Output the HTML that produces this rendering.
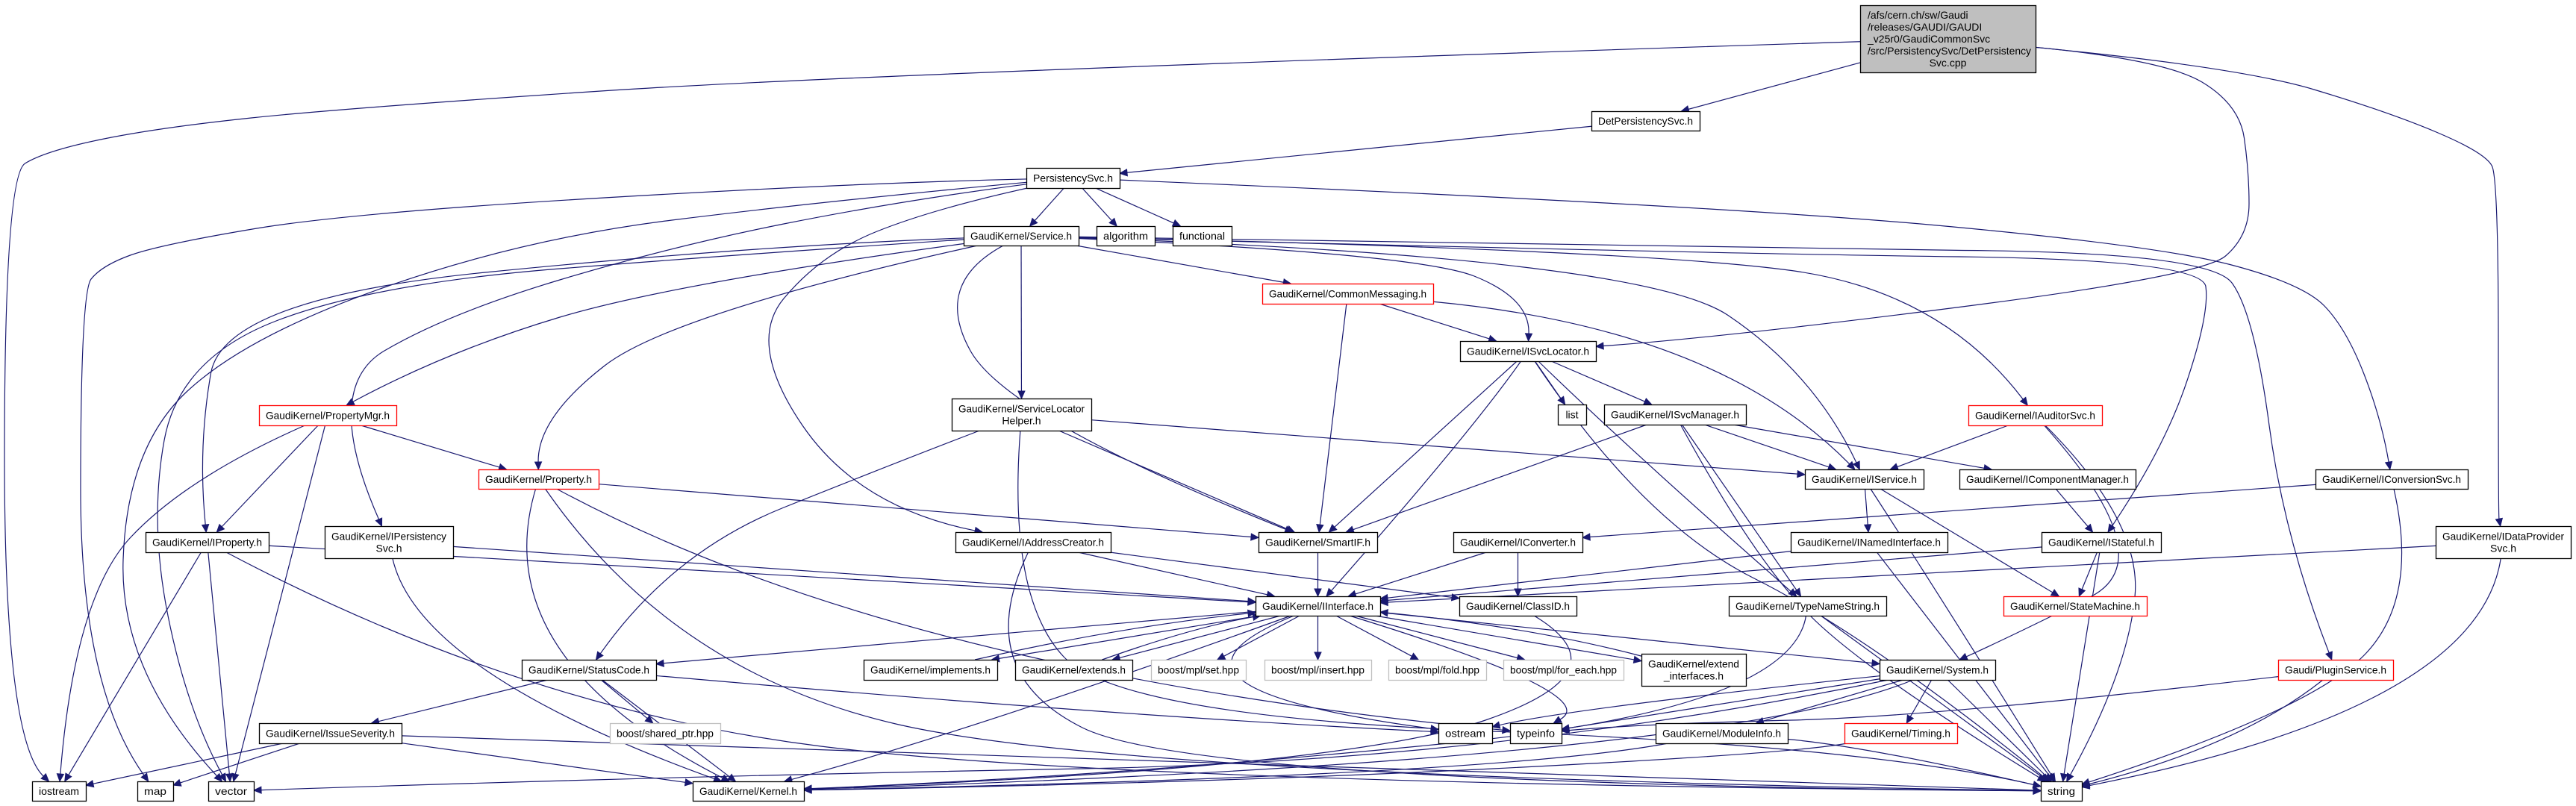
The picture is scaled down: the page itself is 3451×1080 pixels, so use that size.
<!DOCTYPE html>
<html><head><meta charset="utf-8">
<style>
html,body{margin:0;padding:0;background:#fff;}
svg{display:block;}
text{font-family:"Liberation Sans",sans-serif;font-size:14px;fill:#000;}
</style></head>
<body>
<svg id="g" xmlns="http://www.w3.org/2000/svg" width="3451" height="1080" viewBox="0 0 3451 1080">
<rect x="0" y="0" width="3451" height="1080" fill="#fff"/>
<g id="edges" fill="none" stroke="#191970" stroke-width="1.2"></g>
<g id="arrows" fill="#191970" stroke="#191970" stroke-width="1"></g>
<g id="nodes"></g>
</svg>
<script>
var N={
root:[2492,7,2727,97,'g',["/afs/cern.ch/sw/Gaudi","/releases/GAUDI/GAUDI","_v25r0/GaudiCommonSvc","/src/PersistencySvc/DetPersistency","Svc.cpp"]],
det:[2132,149,2277,175,'k',["DetPersistencySvc.h"]],
pers:[1375,225,1500,252,'k',["PersistencySvc.h"]],
svc:[1291,303,1445,329,'k',["GaudiKernel/Service.h"]],
alg:[1469,303,1547,329,'k',["algorithm"]],
fun:[1571,303,1650,329,'k',["functional"]],
cm:[1691,380,1920,407,'r',["GaudiKernel/CommonMessaging.h"]],
isl:[1956,457,2138,484,'k',["GaudiKernel/ISvcLocator.h"]],
pmgr:[347,543,531,570,'r',["GaudiKernel/PropertyMgr.h"]],
slh:[1275,534,1462,577,'k',["GaudiKernel/ServiceLocator","Helper.h"]],
list:[2087,542,2125,569,'k',["list"]],
ism:[2149,542,2339,569,'k',["GaudiKernel/ISvcManager.h"]],
iaud:[2637,543,2816,570,'r',["GaudiKernel/IAuditorSvc.h"]],
prop:[641,629,802,655,'r',["GaudiKernel/Property.h"]],
isvc:[2418,629,2577,655,'k',["GaudiKernel/IService.h"]],
icm:[2625,629,2861,655,'k',["GaudiKernel/IComponentManager.h"]],
iconv:[3102,629,3306,655,'k',["GaudiKernel/IConversionSvc.h"]],
iprop:[195,713,360,740,'k',["GaudiKernel/IProperty.h"]],
ipers:[435,705,607,748,'k',["GaudiKernel/IPersistency","Svc.h"]],
iac:[1280,713,1488,740,'k',["GaudiKernel/IAddressCreator.h"]],
sif:[1686,713,1845,740,'k',["GaudiKernel/SmartIF.h"]],
icv:[1947,713,2120,740,'k',["GaudiKernel/IConverter.h"]],
ini:[2399,713,2609,740,'k',["GaudiKernel/INamedInterface.h"]],
ist:[2735,713,2895,740,'k',["GaudiKernel/IStateful.h"]],
idp:[3263,705,3444,748,'k',["GaudiKernel/IDataProvider","Svc.h"]],
iif:[1682,799,1849,825,'k',["GaudiKernel/IInterface.h"]],
cid:[1955,799,2112,825,'k',["GaudiKernel/ClassID.h"]],
tns:[2316,799,2527,825,'k',["GaudiKernel/TypeNameString.h"]],
sm:[2684,799,2876,825,'r',["GaudiKernel/StateMachine.h"]],
sc:[699,884,879,911,'k',["GaudiKernel/StatusCode.h"]],
impl:[1157,884,1336,911,'k',["GaudiKernel/implements.h"]],
ext:[1360,884,1517,911,'k',["GaudiKernel/extends.h"]],
bset:[1542,884,1669,911,'y',["boost/mpl/set.hpp"]],
bins:[1694,884,1837,911,'y',["boost/mpl/insert.hpp"]],
bfold:[1860,884,1991,911,'y',["boost/mpl/fold.hpp"]],
bfe:[2014,884,2175,911,'y',["boost/mpl/for_each.hpp"]],
eif:[2199,876,2339,919,'k',["GaudiKernel/extend","_interfaces.h"]],
sys:[2518,884,2673,911,'k',["GaudiKernel/System.h"]],
plug:[3052,884,3206,911,'r',["Gaudi/PluginService.h"]],
iss:[347,969,538,996,'k',["GaudiKernel/IssueSeverity.h"]],
shp:[817,969,965,996,'y',["boost/shared_ptr.hpp"]],
ost:[1927,969,1999,996,'k',["ostream"]],
tinf:[2023,969,2092,996,'k',["typeinfo"]],
mod:[2218,969,2395,996,'k',["GaudiKernel/ModuleInfo.h"]],
tim:[2471,969,2622,996,'r',["GaudiKernel/Timing.h"]],
ios:[43,1047,115,1073,'k',["iostream"]],
map:[184,1047,232,1073,'k',["map"]],
vec:[279,1047,340,1073,'k',["vector"]],
ker:[928,1047,1077,1073,'k',["GaudiKernel/Kernel.h"]],
str:[2734,1047,2789,1073,'k',["string"]]
};
var E=[
['root','det'],
['root','ios',[[1150,99],[460,145],[213,171],[61,202],[6,236],[6,990]]],
['root','isl',[[2900,80],[3000,140],[3013,230],[3013,316],[2950,370],[2300,453]]],
['root','idp',[[3000,90],[3200,150],[3330,205],[3347,240],[3347,690]]],
['det','pers'],
['pers','svc'],['pers','alg'],['pers','fun'],
['pers','map',[[1150,245],[469,285],[213,328],[136,356],[108,392],[108,920]]],
['pers','vec',[[1100,270],[700,320],[330,450],[170,600],[160,900]]],
['pers','ipers',[[1200,270],[900,330],[600,420],[430,520]]],
['pers','iac',[[1250,280],[1100,340],[1000,460],[1150,680]]],
['pers','iconv',[[2300,275],[2890,329],[3085,380],[3143,440],[3190,560]]],
['svc','slh'],['svc','cm'],['svc','isl',[[1900,340],[2050,400]]],
['svc','pmgr',[[900,380],[600,470]]],['svc','prop',[[900,420],[720,560]]],
['svc','iprop',[[1000,330],[300,400],[265,600]]],
['svc','vec',[[1000,340],[500,380],[240,480],[200,700],[250,950]]],
['svc','sif',[[1250,380],[1350,560]]],
['svc','isvc',[[2200,345],[2430,500]]],['svc','iaud',[[2200,335],[2600,390]]],
['svc','ist',[[2300,340],[2950,348],[2960,420],[2900,600]]],
['svc','plug',[[2300,333],[2960,338],[3020,420],[3060,720]]],
['cm','isl'],['cm','sif'],['cm','isvc',[[2300,440]]],
['isl','list'],['isl','ism'],['isl','sif'],['isl','iif',[[1970,580]]],['isl','tns',[[2180,600]]],['isl','str',[[2200,700],[2500,850]]],
['slh','isvc'],['slh','sif'],['slh','sc',[[1200,620],[900,740]]],['slh','str',[[1350,800],[1500,960],[2500,1000]]],
['pmgr','prop'],['pmgr','iprop'],['pmgr','ios',[[250,640],[100,800]]],['pmgr','vec'],
['prop','sif',[[1300,690]]],['prop','ker',[[650,880]]],['prop','str',[[900,900],[1500,1040]]],['prop','tinf',[[1200,900]]],
['ism','isvc'],['ism','sif'],['ism','icm'],['ism','tns'],['ism','str',[[2350,750],[2500,900]]],
['iaud','isvc'],['iaud','str',[[2870,700],[2850,900]]],['iaud','sys',[[2900,750],[2700,850]]],
['isvc','ini'],['isvc','sm'],['isvc','str',[[2600,800]]],
['icm','ist'],
['iconv','icv'],['iconv','str',[[3240,800],[3100,950]]],
['iprop','iif'],['iprop','ios'],['iprop','vec'],['iprop','str',[[700,950],[1500,1050]]],
['ipers','iif'],['ipers','ker',[[560,900]]],
['iac','iif'],['iac','cid'],['iac','str',[[1300,900],[1600,1050]]],
['sif','iif'],
['icv','iif'],['icv','cid'],
['ini','iif'],['ini','str'],
['ist','iif'],['ist','sm'],['ist','str'],
['idp','iif'],['idp','str',[[3320,950]]],
['iif','sc'],['iif','impl'],['iif','ext'],['iif','bset'],['iif','bins'],['iif','bfold'],['iif','bfe'],['iif','eif'],
['iif','sys'],['iif','ost',[[1500,920]]],['iif','tinf',[[2150,930]]],['iif','ker',[[1300,980]]],
['impl','iif',[[1500,840]]],['ext','iif',[[1600,840]]],['eif','iif',[[2050,840]]],
['cid','ker',[[2180,900],[1800,1030]]],
['tns','str'],['tns','ker',[[2400,950],[1500,1040]]],
['sc','iss'],['sc','shp'],['sc','ker'],['sc','ost',[[1500,960]]],
['iss','ios'],['iss','map'],['iss','ker'],['iss','str',[[1500,1020]]],
['sys','mod'],['sys','tim'],['sys','str'],['sys','tinf'],['sys','ost',[[2100,950]]],['sys','vec',[[2000,1020],[900,1040]]],['sys','ker',[[2300,1020]]],
['plug','str',[[3000,1000]]],['plug','tinf',[[2600,960],[2200,970]]],
['mod','ker',[[2000,1040]]],['mod','str',[[2500,1000]]],
['tim','ker',[[2400,1010],[1600,1050]]]
];
var NS="http://www.w3.org/2000/svg";
function c(b){return [(b[0]+b[2])/2,(b[1]+b[3])/2];}
function clip(b,p){var cc=c(b),hw=(b[2]-b[0])/2,hh=(b[3]-b[1])/2,dx=p[0]-cc[0],dy=p[1]-cc[1];
var t=Math.min(dx?hw/Math.abs(dx):1e9,dy?hh/Math.abs(dy):1e9);return [cc[0]+dx*t,cc[1]+dy*t];}
var eg=document.getElementById('edges'),ag=document.getElementById('arrows'),ng=document.getElementById('nodes');
E.forEach(function(e){var a=N[e[0]],b=N[e[1]],w=e[2]||[];
var p0=clip(a,w.length?w[0]:c(b)),pn=clip(b,w.length?w[w.length-1]:c(a));
var last=w.length?w[w.length-1]:p0;
var dx=pn[0]-last[0],dy=pn[1]-last[1],L=Math.sqrt(dx*dx+dy*dy)||1;dx/=L;dy/=L;
var end=[pn[0]-dx*10,pn[1]-dy*10];
var pts=[p0].concat(w).concat([end]);
var d='M'+pts[0][0]+','+pts[0][1];
if(pts.length==2){d+=' L'+end[0]+','+end[1];}
else{for(var i=1;i<pts.length-1;i++){var m=[(pts[i][0]+pts[i+1][0])/2,(pts[i][1]+pts[i+1][1])/2];
if(i==pts.length-2)m=pts[i+1];d+=' Q'+pts[i][0]+','+pts[i][1]+' '+m[0]+','+m[1];}}
var p=document.createElementNS(NS,'path');p.setAttribute('d',d);eg.appendChild(p);
var t=document.createElementNS(NS,'polygon');
t.setAttribute('points',pn[0]+','+pn[1]+' '+(end[0]-dy*4.5)+','+(end[1]+dx*4.5)+' '+(end[0]+dy*4.5)+','+(end[1]-dx*4.5));ag.appendChild(t);});
for(var k in N){var b=N[k],r=document.createElementNS(NS,'rect');
r.setAttribute('x',b[0]+0.5);r.setAttribute('y',b[1]+0.5);r.setAttribute('width',b[2]-b[0]);r.setAttribute('height',b[3]-b[1]);
r.setAttribute('fill',b[4]=='g'?'#bfbfbf':'#fff');r.setAttribute('stroke',b[4]=='r'?'#ff0000':(b[4]=='y'?'#bfbfbf':'#000'));r.setAttribute('stroke-width','1.3');ng.appendChild(r);
var lines=b[5];
lines.forEach(function(s,i){var t=document.createElementNS(NS,'text');t.textContent=s;
if(k=='root'){var ly=[20,36,52,68,84][i]+5;
 if(i<4){t.setAttribute('x',b[0]+10);}else{t.setAttribute('x',(b[0]+b[2])/2);t.setAttribute('text-anchor','middle');}
 t.setAttribute('y',ly);
 if(i==3){t.setAttribute('textLength',b[2]-b[0]-16);t.setAttribute('lengthAdjust','spacingAndGlyphs');}
}else{var h=b[3]-b[1],cy=(b[1]+b[3])/2;var y=lines.length==1?cy+5:cy-8+i*16+5;
 t.setAttribute('x',(b[0]+b[2])/2);t.setAttribute('y',y);t.setAttribute('text-anchor','middle');
 if(lines.length==1||i==0){var tl=b[2]-b[0]-18;if(tl>20){t.setAttribute('textLength',tl);t.setAttribute('lengthAdjust','spacingAndGlyphs');}}}
ng.appendChild(t);});}
</script>
</body></html>
